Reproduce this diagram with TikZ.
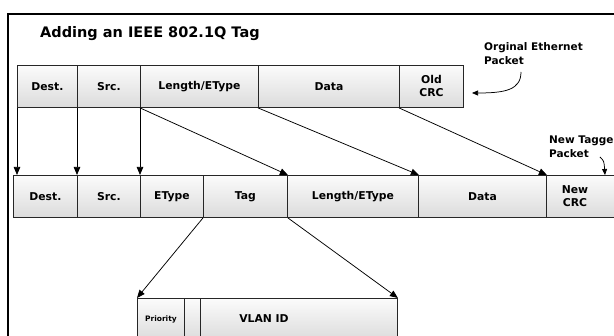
\documentclass[tikz,border=0pt]{standalone}
\usepackage{fontspec}
\setmainfont{DejaVu Sans}
\usetikzlibrary{arrows.meta}
\begin{document}
\begin{tikzpicture}[x=1pt,y=-1pt,
  box/.style={draw=black!85, line width=0.9pt, top color=gray!3, bottom color=gray!28,
    anchor=north west, inner sep=0pt, minimum height=42pt,
    font=\bfseries\fontsize{10.8}{13}\selectfont, align=center},
  arr/.style={-{Triangle[length=8pt,width=6.5pt]}, line width=0.75pt},
  lbl/.style={font=\bfseries\fontsize{10.5}{14}\selectfont, align=left, inner sep=0pt},
]
\useasboundingbox (0,0) rectangle (614,336);
\clip (0,0) rectangle (614,336);
\fill[white] (0,0) rectangle (614,336);
\draw[line width=2.6pt] (8,14) rectangle (640,360);

\node[anchor=west, inner sep=0pt, font=\bfseries\fontsize{14.5}{16}\selectfont] (title) at (40,34) {Adding an IEEE 802.1Q Tag};

% original packet
\node[box, minimum width=60pt] (d1) at (17,65) {Dest.};
\node[box, minimum width=63pt] (s1) at (77,65) {Src.};
\node[box, minimum width=118pt] (l1) at (140,65) {Length/EType};
\node[box, minimum width=141pt] (da1) at (258,65) {Data};
\node[box, minimum width=64pt] (c1) at (399,65) {Old\\CRC};

% tagged packet
\node[box, minimum width=64pt] (d2) at (13,175) {Dest.};
\node[box, minimum width=63pt] (s2) at (77,175) {Src.};
\node[box, minimum width=63pt] (et2) at (140,175) {EType};
\node[box, minimum width=84pt] (tag2) at (203,175) {Tag};
\node[box, minimum width=131pt] (l2) at (287,175) {Length/EType};
\node[box, minimum width=128pt] (da2) at (418,175) {Data};
\node[box, minimum width=80pt] (nc2) at (546,175) {};
\node[font=\bfseries\fontsize{10.8}{13}\selectfont, align=center, inner sep=0pt] (nct) at (575,196) {New\\CRC};

% tag detail
\node[box, minimum width=47pt, font=\bfseries\fontsize{7.5}{8}\selectfont] (pr) at (137,298) {Priority};
\node[box, minimum width=16pt] (cf) at (184,298) {};
\node[box, minimum width=197pt] (vl) at (200,298) {};
\node[font=\bfseries\fontsize{10.8}{13}\selectfont, inner sep=0pt] (vlt) at (264,319) {VLAN ID};

% arrows
\draw[arr] (d1.south west) -- (d1.south west |- d2.north);
\draw[arr] (s1.south west) -- (s2.north west);
\draw[arr] (l1.south west) -- (et2.north west);
\draw[arr] (l1.south west) -- (tag2.north east);
\draw[arr] (da1.south west) -- (l2.north east);
\draw[arr] (c1.south west) -- (da2.north east);
\draw[arr] (tag2.south west) -- (pr.north west);
\draw[arr] (tag2.south east) -- (vl.north east);

% labels
\node[lbl, anchor=north west] (oe) at (484,42) {Orginal Ethernet\\Packet};
\coordinate (oa) at (521,72);
\coordinate (oat) at (472,93);
\draw[arr, -{Triangle[length=6pt,width=5pt]}] (oa) .. controls (521,90) and (505,93) .. (oat);

\node[lbl, anchor=north west] (nt) at (549,136) {New Tagge\\Packet};
\coordinate (na) at (600,157);
\draw[arr, -{Triangle[length=6pt,width=5pt]}] (na) .. controls (604,161) .. (d2.north -| 605,0);
\end{tikzpicture}
\end{document}
